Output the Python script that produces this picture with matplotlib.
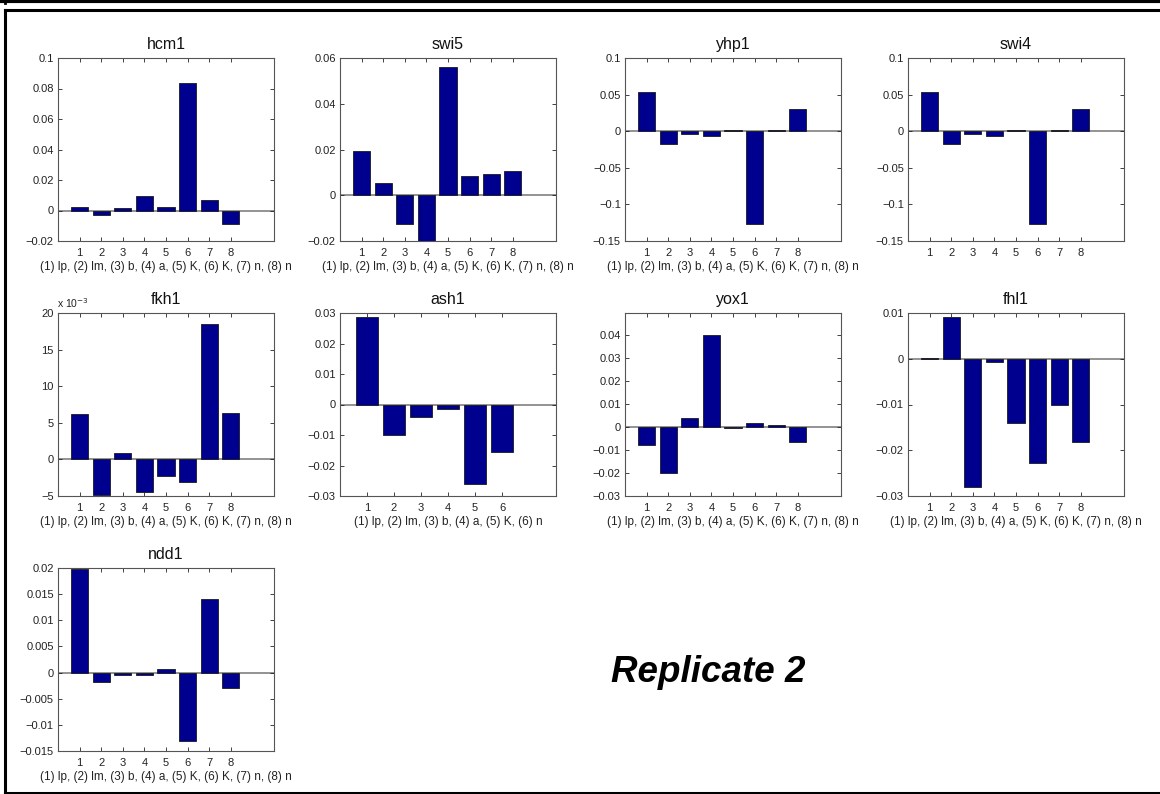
import numpy as np
import matplotlib
matplotlib.use("Agg")
import matplotlib.pyplot as plt
from matplotlib.ticker import FuncFormatter
from matplotlib.lines import Line2D

plt.rcParams['font.family'] = ['Liberation Sans', 'DejaVu Sans']

# regression weights per gene, one value per regulator group
hcm1 = [0.0020, -0.0030, 0.0017, 0.0096, 0.0022, 0.0836, 0.0072, -0.0087]
swi5 = [0.0193, 0.0054, -0.0127, -0.0205, 0.0562, 0.0085, 0.0091, 0.0105]
yhp1 = [0.0535, -0.0178, -0.0040, -0.0070, 0.0010, -0.1270, 0.0020, 0.0297]
swi4 = [0.0535, -0.0178, -0.0040, -0.0070, 0.0010, -0.1270, 0.0020, 0.0297]
fkh1 = [0.0062, -0.00485, 0.00082, -0.0045, -0.00233, -0.00306, 0.01855, 0.0063]
ash1 = [0.0287, -0.0100, -0.0042, -0.0014, -0.0262, -0.0157]
yox1 = [-0.0076, -0.0202, 0.0041, 0.0401, -0.0004, 0.0020, 0.0010, -0.0063]
fhl1 = [0.0001, 0.0091, -0.0281, -0.00066, -0.0140, -0.0228, -0.0100, -0.0182]
ndd1 = [0.0198, -0.00186, -0.00045, -0.0005, 0.0007, -0.0130, 0.01415, -0.0030]

label8 = "(1) lp, (2) lm, (3) b, (4) a, (5) K, (6) K, (7) n, (8) n"
label6 = "(1) lp, (2) lm, (3) b, (4) a, (5) K, (6) n"

ylims = {
    'hcm1': ((-0.02, 0.1), [-0.02, 0, 0.02, 0.04, 0.06, 0.08, 0.1]),
    'swi5': ((-0.02, 0.06), [-0.02, 0, 0.02, 0.04, 0.06]),
    'yhp1': ((-0.15, 0.1), [-0.15, -0.1, -0.05, 0, 0.05, 0.1]),
    'swi4': ((-0.15, 0.1), [-0.15, -0.1, -0.05, 0, 0.05, 0.1]),
    'fkh1': ((-0.005, 0.02), [-0.005, 0, 0.005, 0.01, 0.015, 0.02]),
    'ash1': ((-0.03, 0.03), [-0.03, -0.02, -0.01, 0, 0.01, 0.02, 0.03]),
    'yox1': ((-0.03, 0.0497), [-0.03, -0.02, -0.01, 0, 0.01, 0.02, 0.03, 0.04]),
    'fhl1': ((-0.03, 0.01), [-0.03, -0.02, -0.01, 0, 0.01]),
    'ndd1': ((-0.015, 0.02), [-0.015, -0.01, -0.005, 0, 0.005, 0.01, 0.015, 0.02]),
}

panels = [
    ('hcm1', hcm1, label8, 0, 0),
    ('swi5', swi5, label8, 0, 1),
    ('yhp1', yhp1, label8, 0, 2),
    ('swi4', swi4, None, 0, 3),
    ('fkh1', fkh1, label8, 1, 0),
    ('ash1', ash1, label6, 1, 1),
    ('yox1', yox1, label8, 1, 2),
    ('fhl1', fhl1, label8, 1, 3),
    ('ndd1', ndd1, label8, 2, 0),
]

W, H = 1160, 794
fig = plt.figure(figsize=(W / 100, H / 100), dpi=100)

col_left = [58, 340, 625, 908]
row_top = [58, 313, 568]
ax_w, ax_h = 216, 183


def fmt(v, pos):
    s = '%g' % round(v, 6)
    return s.replace('-', '\u2212')


def fmt_e3(v, pos):
    s = '%g' % round(v * 1e3, 6)
    return s.replace('-', '\u2212')


for name, vals, xlab, r, c in panels:
    l = col_left[c] / W
    b = 1 - (row_top[r] + ax_h) / H
    ax = fig.add_axes([l, b, ax_w / W, ax_h / H])
    n = len(vals)
    x = np.arange(1, n + 1)
    ax.axhline(0, color='#8a8a8a', lw=1.3, zorder=1)
    ax.bar(x, vals, width=0.8, color='#00008F', edgecolor='#1a1a1a',
           linewidth=0.6, zorder=2)
    ax.set_xlim(0, n + 2)
    (lo, hi), ticks = ylims[name]
    ax.set_ylim(lo, hi)
    ax.set_yticks(ticks)
    ax.set_xticks(x)
    if name == 'fkh1':
        ax.yaxis.set_major_formatter(FuncFormatter(fmt_e3))
        ax.text(-0.005, 1.015, 'x 10$^{-3}$', transform=ax.transAxes,
                fontsize=7.5, ha='left', va='bottom', color='#222222')
    else:
        ax.yaxis.set_major_formatter(FuncFormatter(fmt))
    ax.tick_params(direction='in', length=3, width=0.6, top=True, right=True,
                   labelsize=8, colors='#222222')
    ax.tick_params(axis='x', pad=5)
    ax.tick_params(axis='y', pad=3)
    for sp in ax.spines.values():
        sp.set_color('#555555')
        sp.set_linewidth(0.8)
    ax.set_title(name, fontsize=11.5, pad=6.5, color='#111111')
    if xlab:
        ax.set_xlabel(xlab, fontsize=8.5, labelpad=2, color='#222222')

fig.text(708 / W, 1 - 673 / H, 'Replicate 2', fontsize=26.5, fontweight='bold',
         fontstyle='italic', ha='center', va='center', color='black')

# outer frame lines
def px(xp, yp):
    return xp / W, 1 - yp / H

for (x0, y0), (x1, y1), lw in [
    ((0, 1), (W, 1), 3.0),
    ((5, 0), (5, 3), 2.0),
    ((5, 9.5), (W, 9.5), 2.2),
    ((5, 9.5), (5, 793), 2.2),
    ((5, 793), (W, 793), 2.2),
]:
    a = px(x0, y0)
    bpt = px(x1, y1)
    fig.add_artist(Line2D([a[0], bpt[0]], [a[1], bpt[1]], color='black',
                          lw=lw, transform=fig.transFigure))

fig.savefig('out.png', dpi=100)
